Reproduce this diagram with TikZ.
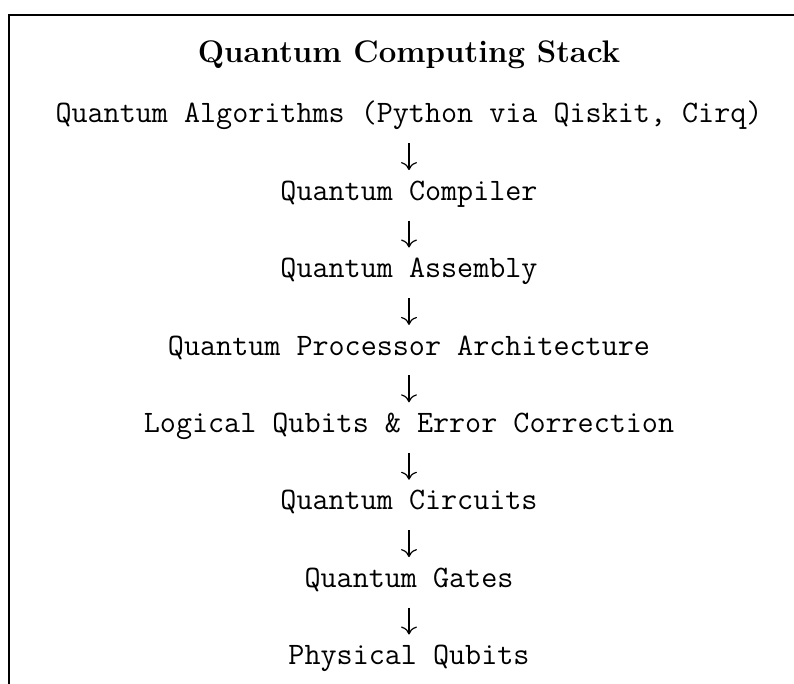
\documentclass[tikz,border=0pt]{standalone}
\usepackage{fontspec}
\usetikzlibrary{arrows.meta}
\begin{document}
\begin{tikzpicture}[x=0.75pt,y=-0.75pt,
  layer/.style={anchor=base, inner sep=0pt, text height=16pt, text depth=5pt,
    font=\fontsize{23.4}{28}\selectfont\ttfamily},
  titlestyle/.style={anchor=base, inner sep=0pt,
    font=\fontsize{23.4}{28}\selectfont\bfseries},
  flow/.style={line width=0.9pt,
    -{Computer Modern Rightarrow[length=6pt,width=12pt]},
    shorten <=10pt, shorten >=6.5pt}]
\useasboundingbox (0,0) rectangle (794,684);
\clip (0,0) rectangle (794,684);
\draw[line width=0.9pt] (9,15) rectangle (830,720);
\node[titlestyle] (title) at (409,63) {Quantum Computing Stack};
\node[layer] (l1) at (409,123) {Quantum Algorithms (Python via Qiskit, Cirq)};
\node[layer] (l2) at (409,200.4) {Quantum Compiler};
\node[layer] (l3) at (409,277.8) {Quantum Assembly};
\node[layer] (l4) at (409,355.2) {Quantum Processor Architecture};
\node[layer] (l5) at (409,432.6) {Logical Qubits \& Error Correction};
\node[layer] (l6) at (409,510) {Quantum Circuits};
\node[layer] (l7) at (409,587.4) {Quantum Gates};
\node[layer] (l8) at (409,664.8) {Physical Qubits};
\draw[flow] (l1.south) -- (l2.north);
\draw[flow] (l2.south) -- (l3.north);
\draw[flow] (l3.south) -- (l4.north);
\draw[flow] (l4.south) -- (l5.north);
\draw[flow] (l5.south) -- (l6.north);
\draw[flow] (l6.south) -- (l7.north);
\draw[flow] (l7.south) -- (l8.north);
\end{tikzpicture}
\end{document}
